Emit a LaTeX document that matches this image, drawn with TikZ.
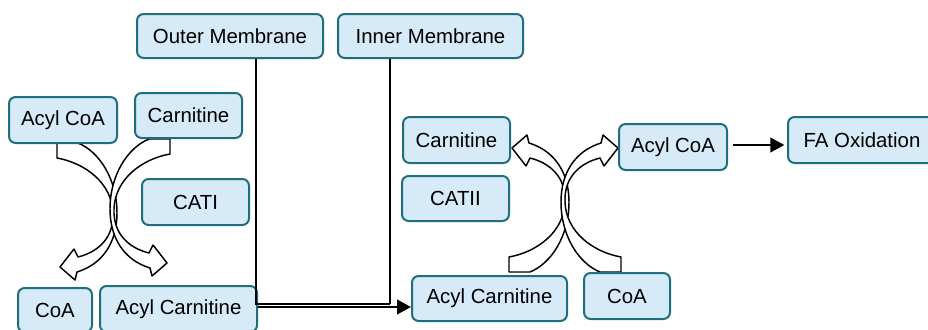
\documentclass[tikz,border=0pt]{standalone}
\usepackage{fontspec}
\setmainfont{Liberation Sans}
\usetikzlibrary{arrows.meta}
\definecolor{boxfill}{RGB}{214,234,248}
\definecolor{boxedge}{RGB}{30,110,125}
\tikzset{
 box/.style={draw=boxedge, fill=boxfill, line width=1.5pt, rounded corners=5pt, inner sep=0pt, font=\fontsize{15.3}{18}\selectfont, text=black},
 membrane/.style={line width=1.1pt, draw=black},
 flow/.style={line width=1.5pt, draw=black, -{Triangle[length=10.5pt,width=11pt]}},
 crescentstyle/.style={draw=black, fill=white, line width=1.1pt, line join=round},
 crescent/.pic={
  \path[crescentstyle] (57,143) -- (57,158)
   .. controls (85,163) and (112,183) .. (113,213)
   .. controls (114,238) and (98,252) .. (78,257)
   -- (74,249) -- (60,267) -- (75,280) -- (77,272)
   .. controls (103,264) and (117,242) .. (117,213)
   .. controls (117,180) and (100,152) .. (78,143) -- cycle;
 }
}
\begin{document}
\begin{tikzpicture}[x=0.75pt,y=-0.75pt]
\useasboundingbox (0,0) rectangle (928,329);
% curved block arrows
\pic[transform shape] {crescent};
\begin{scope}[shift={(227,-4)},xscale=-1]
 \pic[transform shape] {crescent};
\end{scope}
\begin{scope}[shift={(452,415)},yscale=-1]
 \pic[transform shape] {crescent};
\end{scope}
\begin{scope}[shift={(678,415)},xscale=-1,yscale=-1]
 \pic[transform shape] {crescent};
\end{scope}
% boxes
\node[box, minimum width=139.5pt, minimum height=33pt] (om) at (230,36) {Outer Membrane};
\node[box, minimum width=138.75pt, minimum height=33pt] (im) at (430.5,36) {Inner Membrane};
\node[box, minimum width=81pt, minimum height=34.5pt] (acoa1) at (63,120) {Acyl CoA};
\node[box, minimum width=80.25pt, minimum height=33.75pt] (carn1) at (188.5,115.5) {Carnitine};
\node[box, minimum width=80.25pt, minimum height=34.5pt] (cat1) at (195.5,202) {CATI};
\node[box, minimum width=55.5pt, minimum height=33pt] (coa1) at (55,310) {CoA};
\node[box, minimum width=117.75pt, minimum height=34.5pt] (ac1) at (178.5,309) {Acyl Carnitine};
\node[box, minimum width=80.25pt, minimum height=34.5pt] (carn2) at (456.5,140) {Carnitine};
\node[box, minimum width=80.25pt, minimum height=33.75pt] (cat2) at (455.5,198.5) {CATII};
\node[box, minimum width=116.25pt, minimum height=33.75pt] (ac2) at (489.5,298.5) {Acyl Carnitine};
\node[box, minimum width=64.5pt, minimum height=34.5pt] (coa2) at (627,296) {CoA};
\node[box, minimum width=81pt, minimum height=34.5pt] (acoa2) at (673,147) {Acyl CoA};
\node[box, minimum width=111pt, minimum height=34.5pt] (fa) at (862,140) {FA Oxidation};
% connectors
\coordinate (oml) at (256,304);
\coordinate (iml) at (390,304);
\draw[membrane] (om.south -| oml) -- (oml) -- (iml);
\draw[membrane] (im.south -| iml) -- (iml);
\coordinate (yac) at (0,307);
\draw[flow] (ac1.east |- yac) -- (ac2.west |- yac);
\coordinate (yfa) at (0,145);
\draw[flow, shorten <=3.75pt, shorten >=2pt] (acoa2.east |- yfa) -- (fa.west |- yfa);
\end{tikzpicture}
\end{document}
